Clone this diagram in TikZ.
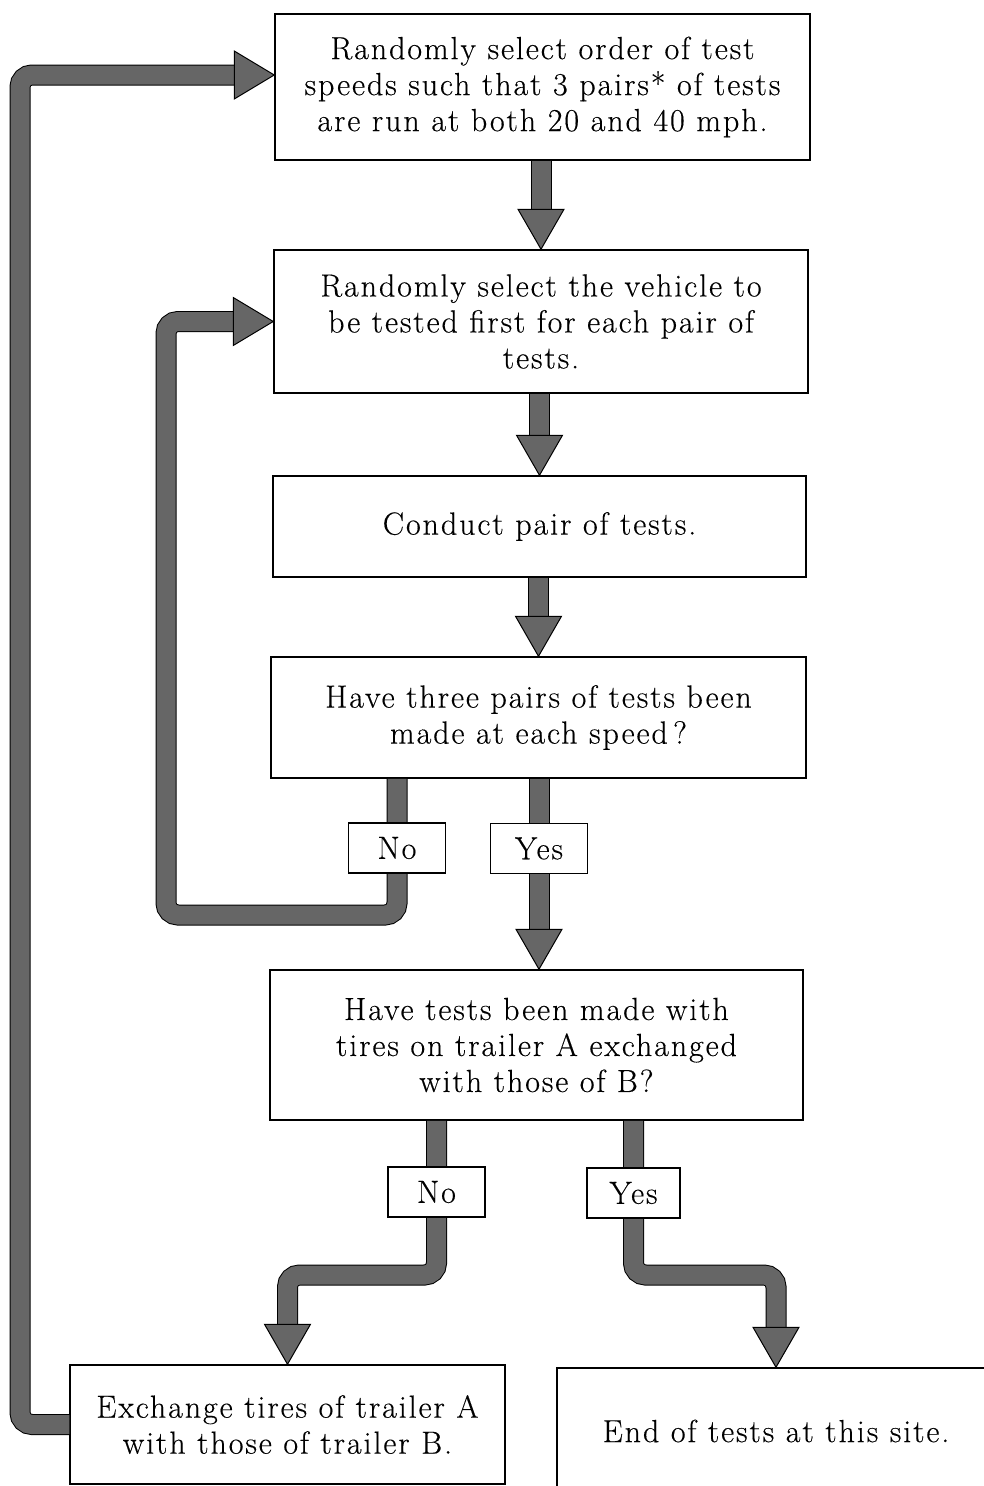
\documentclass[tikz,border=0pt]{standalone}
\usepackage{fontspec}
\setmainfont{Latin Modern Roman}[LetterSpace=6, FakeBold=0.3]
\definecolor{arrowgray}{gray}{0.4}
\newcommand{\boxfont}{\fontsize{32}{36}\selectfont}
\newcommand{\headdown}[1]{\filldraw[head] (#1) -- ++(-23,-40) -- ++(46,0) -- cycle;}
\newcommand{\headright}[1]{\filldraw[head] (#1) -- ++(-40,-24) -- ++(0,48) -- cycle;}
\tikzset{
  box/.style={draw=black, line width=1.5pt, fill=white, align=center, inner sep=0pt, font=\boxfont},
  lab/.style={box, minimum height=50, minimum width=97},
  shaft/.style={draw=black, line width=1pt, double=arrowgray, double distance=19pt, rounded corners=12pt},
  head/.style={draw=black, line width=1pt, fill=arrowgray, line join=miter},
}
\begin{document}
\begin{tikzpicture}[x=1pt, y=-1pt]
\useasboundingbox (0,0) rectangle (984,1486);
% boxes
\node[box, minimum width=535, minimum height=146] (b1) at (542.5,87)
  {Randomly select order of test\\speeds such that 3 pairs* of tests\\are run at both 20 and 40 mph.};
\node[box, minimum width=534, minimum height=143] (b2) at (541,321.5)
  {Randomly select the vehicle to\\be tested first for each pair of\\tests.};
\node[box, minimum width=533, minimum height=101] (b3) at (539.5,526.5)
  {Conduct pair of tests.};
\node[box, minimum width=535, minimum height=121] (b4) at (538.5,717.5)
  {Have three pairs of tests been\\made at each speed\,?};
\node[box, minimum width=533, minimum height=150] (b5) at (536.5,1045)
  {Have tests been made with\\tires on trailer A exchanged\\with those of B?};
\node[box, minimum width=435, minimum height=119] (b6) at (287.5,1424.5)
  {Exchange tires of trailer A\\with those of trailer B.};
\node[box, minimum width=438, minimum height=126] (b7) at (776,1431)
  {End of tests at this site.};
% label positions
\coordinate (no1) at (397,848);
\coordinate (yes1) at (539,848.5);
\coordinate (no2) at (436.5,1192);
\coordinate (yes2) at (633.5,1193);
\coordinate (h1) at (0,915);
\coordinate (v1) at (166,0);
\coordinate (h2) at (0,1275);
\coordinate (lx) at (20,0);
\coordinate (t1) at ([yshift=12pt]b1.west);
% straight connectors
\draw[shaft, shorten >=38] (b2.north |- b1.south) -- (b2.north);
\headdown{b2.north}
\draw[shaft, shorten >=38] (b3.north |- b2.south) -- (b3.north);
\headdown{b3.north}
\draw[shaft, shorten >=38] (b4.north |- b3.south) -- (b4.north);
\headdown{b4.north}
% decision 1
\draw[shaft, shorten >=38] (no1 |- b4.south) -- (no1 |- h1) -- (v1 |- h1) -- (v1 |- b2.west) -- (b2.west);
\headright{b2.west}
\draw[shaft, shorten >=38] (yes1 |- b4.south) -- (yes1 |- b5.north);
\headdown{yes1 |- b5.north}
% decision 2
\draw[shaft, shorten >=38] (no2 |- b5.south) -- (no2 |- h2) -| (b6.north);
\headdown{b6.north}
\draw[shaft, shorten >=38] (yes2 |- b5.south) -- (yes2 |- h2) -| (b7.north);
\headdown{b7.north}
% outer loop
\draw[shaft, shorten >=38] (b6.west) -| (lx |- t1) -- (t1);
\headright{t1}
% labels
\node[lab] (lno1) at (no1) {No};
\node[lab] (lyes1) at (yes1) {Yes};
\node[lab] (lno2) at (no2) {No};
\node[lab, minimum width=93] (lyes2) at (yes2) {Yes};
\end{tikzpicture}
\end{document}
